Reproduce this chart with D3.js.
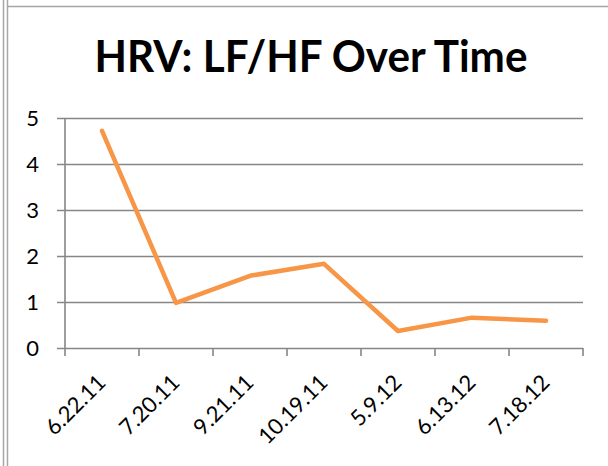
<!DOCTYPE html>
<html>
<head>
<meta charset="utf-8">
<script src="https://cdn.jsdelivr.net/npm/d3@7"></script>
<style>
  html, body { margin: 0; padding: 0; background: #fff; }
</style>
</head>
<body>
<div id="chart"></div>
<script>
// ─── data ─────────────────────────────────────────────────────────
const dates  = ["6.22.11", "7.20.11", "9.21.11", "10.19.11", "5.9.12", "6.13.12", "7.18.12"];
const lfhf   = [4.72, 0.98, 1.57, 1.83, 0.37, 0.66, 0.59];
const yTicks = [0, 1, 2, 3, 4, 5];

// ─── layout ───────────────────────────────────────────────────────
const width  = 608;
const height = 466;
const plot   = { left: 65, right: 583, top: 118, bottom: 348 };
const lineOrange = "#f79646";
const gridGrey   = "#868686";
const font = "Lato, 'Open Sans', sans-serif";

const svg = d3.select("#chart")
    .append("svg")
    .attr("width", width)
    .attr("height", height);

// frame lines (left double rule and top rule)
svg.append("line").attr("x1", 3.5).attr("x2", 3.5).attr("y1", 0).attr("y2", height)
    .attr("stroke", "#a6a6a6").attr("stroke-width", 1.5);
svg.append("line").attr("x1", 7.5).attr("x2", 7.5).attr("y1", 0).attr("y2", height)
    .attr("stroke", "#a6a6a6").attr("stroke-width", 1.5);
svg.append("line").attr("x1", 8).attr("x2", width).attr("y1", 6.5).attr("y2", 6.5)
    .attr("stroke", "#a6a6a6").attr("stroke-width", 1.5);

// ─── scales ───────────────────────────────────────────────────────
const x = d3.scaleBand()
    .domain(dates)
    .range([plot.left, plot.right]);

const y = d3.scaleLinear()
    .domain([0, 5])
    .range([plot.bottom, plot.top]);

// ── gridlines + y axis ────────────────────────────────────────────
const yAxis = d3.axisLeft(y)
    .tickValues(yTicks)
    .tickSize(plot.right - plot.left + 8)
    .tickPadding(18)
    .tickFormat(d3.format("d"));

const gy = svg.append("g")
    .attr("transform", `translate(${plot.right}, 0)`)
    .call(yAxis);
gy.select(".domain").remove();
gy.selectAll(".tick line")
    .attr("stroke", gridGrey)
    .attr("stroke-width", 1.6);
gy.selectAll(".tick text")
    .style("font-family", font)
    .style("font-size", "22px")
    .attr("fill", "#000");

// vertical axis line
svg.append("line")
    .attr("x1", plot.left).attr("x2", plot.left)
    .attr("y1", plot.top).attr("y2", plot.bottom)
    .attr("stroke", gridGrey).attr("stroke-width", 1.6);

// ── x axis ────────────────────────────────────────────────────────
const xEdges = dates.map(d => x(d)).concat([plot.right]);
const gx = svg.append("g")
    .attr("transform", `translate(0, ${plot.bottom})`);
gx.selectAll("line.tick")
    .data(xEdges)
    .join("line")
    .attr("class", "tick")
    .attr("x1", d => d).attr("x2", d => d)
    .attr("y1", 0).attr("y2", 8)
    .attr("stroke", gridGrey).attr("stroke-width", 1.6);

gx.selectAll("text")
    .data(dates)
    .join("text")
    .attr("transform", d => `translate(${x(d) + x.bandwidth() / 2 + 5}, 36) rotate(-45)`)
    .attr("text-anchor", "end")
    .style("font-family", font)
    .style("font-size", "22px")
    .attr("fill", "#000")
    .text(d => d);

// ── line ──────────────────────────────────────────────────────────
const line = d3.line()
    .x((d, i) => x(dates[i]) + x.bandwidth() / 2)
    .y(d => y(d));

svg.append("path")
    .datum(lfhf)
    .attr("d", line)
    .attr("fill", "none")
    .attr("stroke", lineOrange)
    .attr("stroke-width", 4.5)
    .attr("stroke-linejoin", "round")
    .attr("stroke-linecap", "round");

// ── title ─────────────────────────────────────────────────────────
svg.append("text")
    .attr("x", 311)
    .attr("y", 72)
    .attr("text-anchor", "middle")
    .attr("textLength", 433)
    .attr("lengthAdjust", "spacingAndGlyphs")
    .style("font-family", font)
    .style("font-size", "44px")
    .style("font-weight", "700")
    .attr("fill", "#000")
    .text("HRV: LF/HF Over Time");
</script>
</body>
</html>
